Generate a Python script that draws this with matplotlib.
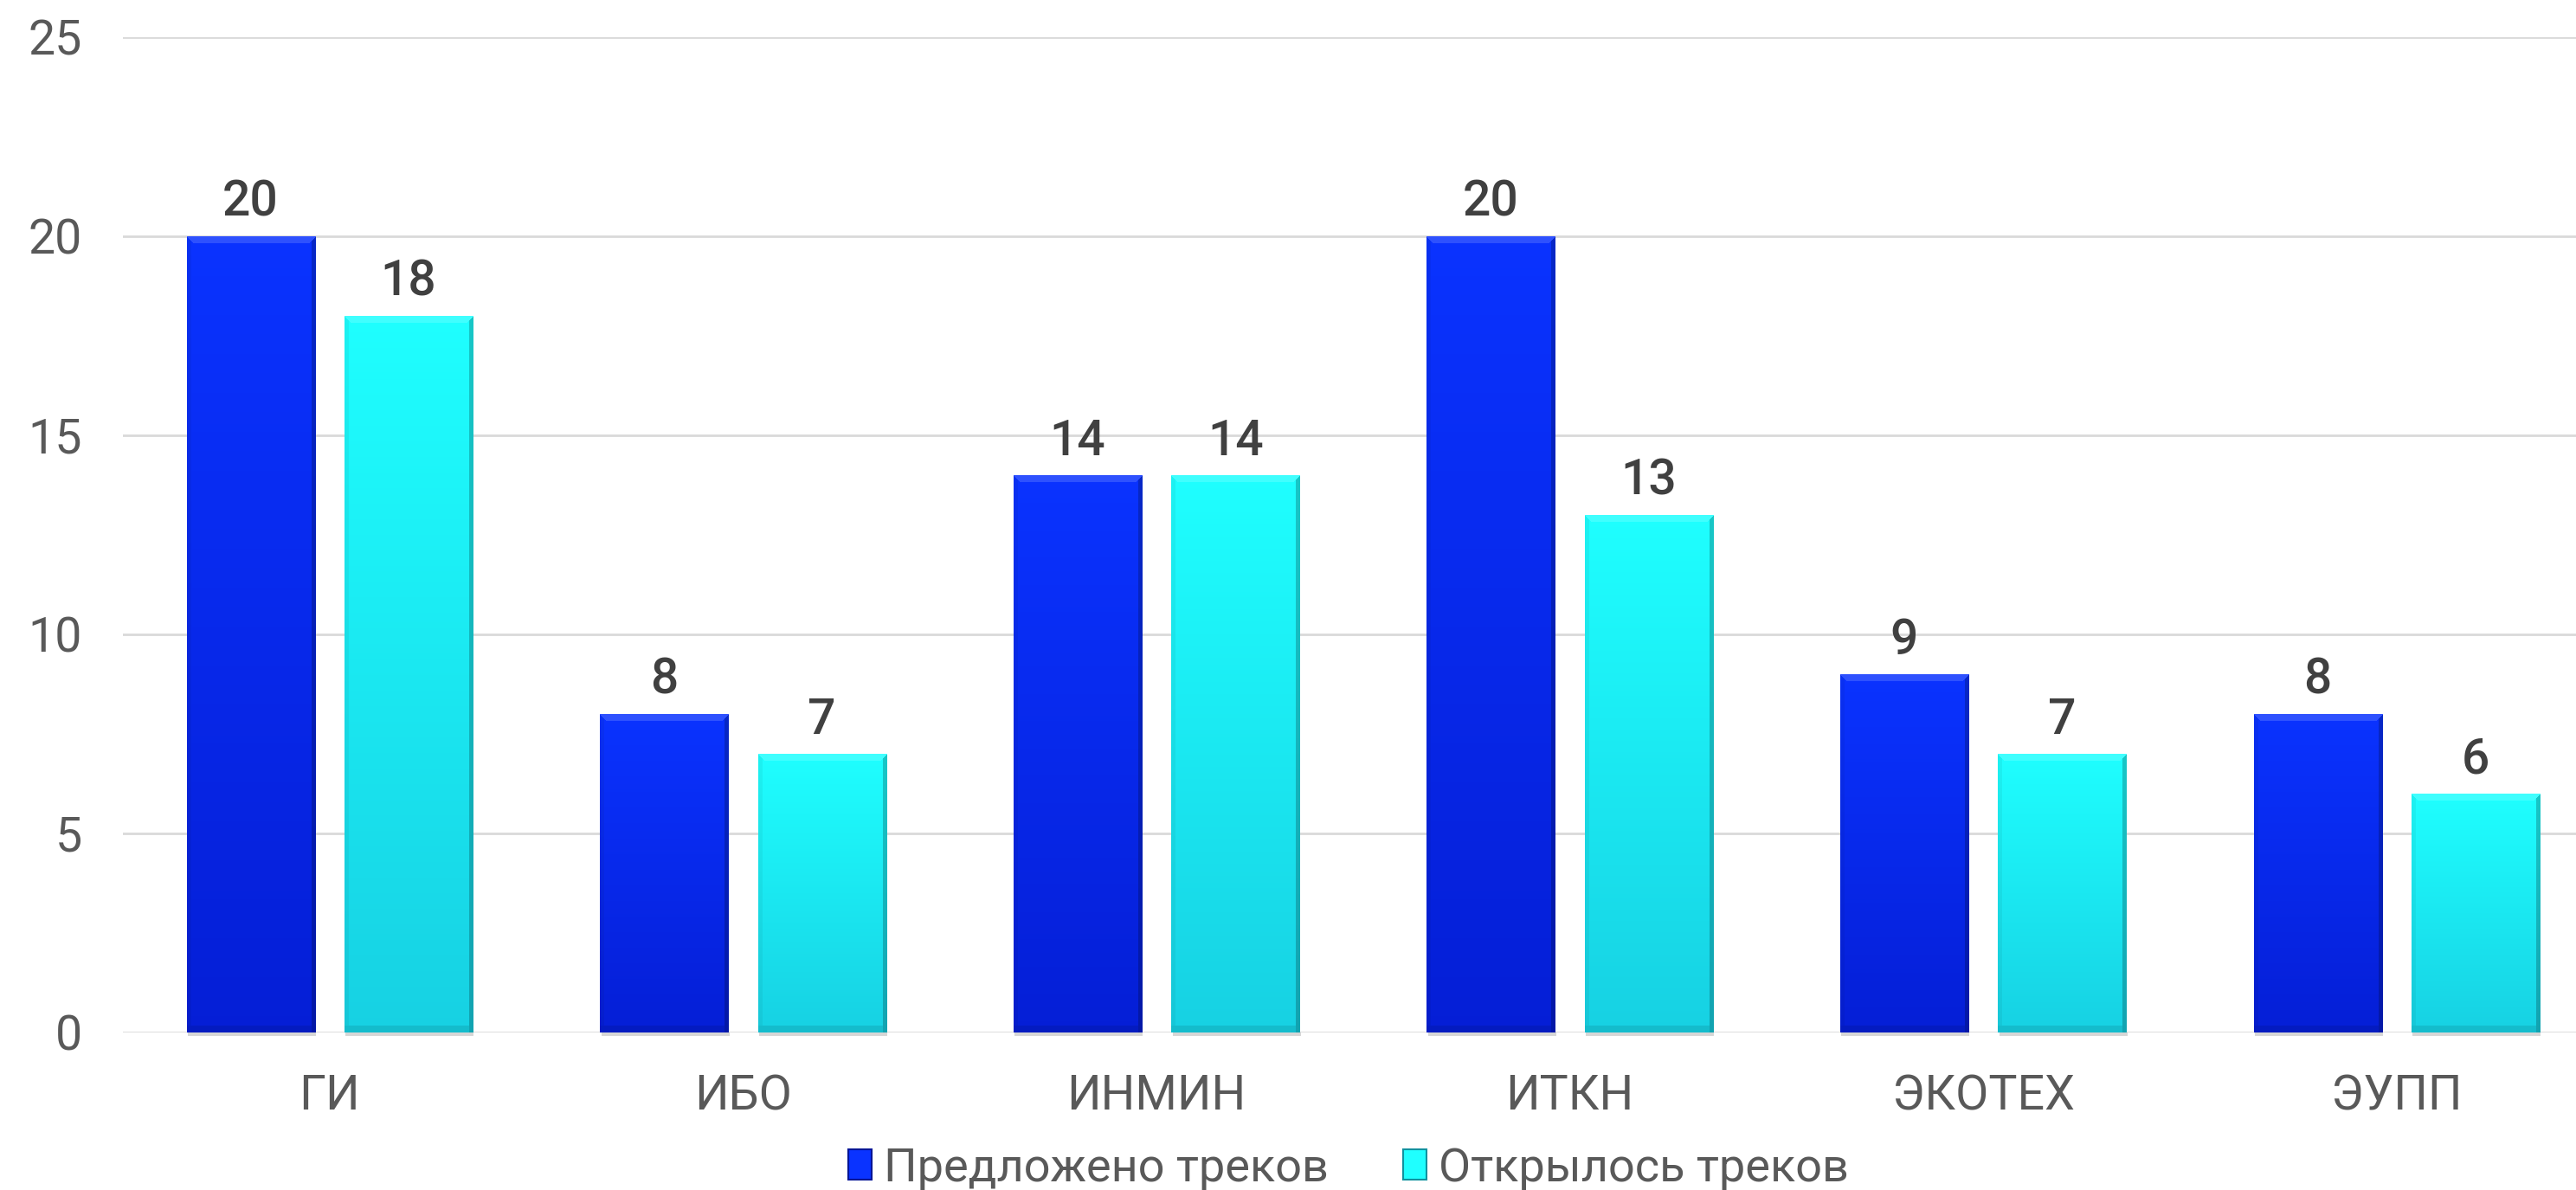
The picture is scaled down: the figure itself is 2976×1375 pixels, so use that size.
import numpy as np
import matplotlib
matplotlib.use("Agg")
import matplotlib.pyplot as plt
from matplotlib.patches import Rectangle

# data
institutes = ["ГИ", "ИБО", "ИНМИН", "ИТКН", "ЭКОТЕХ", "ЭУПП"]
offered = [20, 8, 14, 20, 9, 8]
opened = [18, 7, 14, 13, 7, 6]
series_names = ["Предложено треков", "Открылось треков"]

plt.rcParams['font.family'] = ['Roboto', 'DejaVu Sans']

W, H = 2976, 1375
fig = plt.figure(figsize=(W / 100, H / 100), dpi=100)
ax = fig.add_axes([142 / W, 182 / H, 6 * 477.6 / W, 1150 / H])

x = np.arange(len(institutes))
bw = 0.31
off = 0.5 * bw + 0.036

# (top colour, bottom colour) of each series
grads = [((0.04, 0.20, 1.00), (0.02, 0.12, 0.84)),
         ((0.12, 1.00, 1.00), (0.09, 0.82, 0.89))]

ax.set_xlim(-0.5, len(institutes) - 0.5)
ax.set_ylim(0, 25)
ax.set_yticks(range(0, 26, 5))
ax.yaxis.grid(True, color="#d9d9d9", lw=2)
ax.set_axisbelow(True)
for s in ax.spines.values():
    s.set_visible(False)
ax.tick_params(axis='both', length=0, labelsize=40, colors="#595959")
ax.tick_params(axis='y', pad=34)
ax.tick_params(axis='x', pad=34)
ax.set_xticks(x)
ax.set_xticklabels(institutes)


def bevel_image(wpx, hpx, top, bot, b=8):
    # vertical gradient with a bevelled rim
    t = np.linspace(0, 1, hpx)[:, None, None]
    img = (1 - t) * np.array(top) + t * np.array(bot)
    img = np.repeat(img, wpx, axis=1)
    yy, xx = np.mgrid[0:hpx, 0:wpx]
    light = (yy < b) & (xx >= yy) & (wpx - 1 - xx >= yy)
    dark_r = (wpx - 1 - xx < b * 0.6) & ~light
    dark_b = (hpx - 1 - yy < b) & ~light & ~dark_r
    left = (xx < b * 0.6) & ~light & ~dark_b
    img[light] = img[light] * 0.85 + 0.15
    img[dark_r] = img[dark_r] * 0.78
    img[dark_b] = img[dark_b] * 0.9
    img[left] = img[left] * 0.95
    return np.clip(img, 0, 1)


for k, vals in enumerate([offered, opened]):
    pos = x - off if k == 0 else x + off
    bars = ax.bar(pos, vals, bw, color=grads[k][0], zorder=2)
    for b, v in zip(bars, vals):
        x0, y0 = b.get_x(), 0
        x1, y1 = x0 + bw, v
        p0 = ax.transData.transform((x0, y0))
        p1 = ax.transData.transform((x1, y1))
        wpx = max(int(round(p1[0] - p0[0])), 2)
        hpx = max(int(round(p1[1] - p0[1])), 2)
        img = bevel_image(wpx, hpx, grads[k][0], grads[k][1])
        ax.imshow(img, extent=(x0, x1, y0, y1), aspect='auto', zorder=3,
                  interpolation='nearest')
        # soft shadow under the bar
        ax.add_patch(Rectangle((x0 + 0.003, -0.09), bw, 0.09, color="#d6d6d6",
                               zorder=1.5, clip_on=False, lw=0))
        ax.text(b.get_x() + bw / 2, v + 0.5, str(v), ha='center', va='baseline',
                fontsize=41, fontweight='medium', color="#404040", zorder=4)

ax.set_xlim(-0.5, len(institutes) - 0.5)
ax.set_ylim(0, 25)

handles = [Rectangle((0, 0), 1, 1, facecolor=grads[k][0],
                     edgecolor=tuple(c * 0.7 for c in grads[k][1]), lw=1.5)
           for k in range(2)]
fig.legend(handles, series_names, loc='center', bbox_to_anchor=(1558 / W, 1 - 1350 / H),
           ncol=2, frameon=False, fontsize=39, labelcolor="#595959",
           handlelength=0.5, handleheight=0.6, handletextpad=0.25,
           columnspacing=1.6)

fig.savefig("out.png", dpi=100)
